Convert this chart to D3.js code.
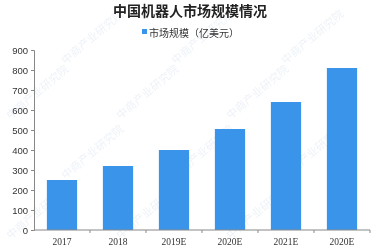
<!DOCTYPE html>
<html><head><meta charset="utf-8">
<script src="https://cdn.jsdelivr.net/npm/d3@7"></script>
<style>body{margin:0;background:#fff;}svg{display:block;font-family:"Noto Sans CJK SC","Liberation Sans",sans-serif;}</style>
</head><body>
<svg id="c" width="379" height="249"></svg>
<script>
const categories = ["2017","2018","2019E","2020E","2021E","2020E "];
const values = [250, 320, 400, 505, 640, 810];
const yTicks = [0,100,200,300,400,500,600,700,800,900];
const title = "中国机器人市场规模情况";
const seriesName = "市场规模（亿美元）";

const svg = d3.select("#c");
const m = {l:34, r:9, t:50, b:19};
const W = 379, H = 249;
const x = d3.scaleBand().domain(categories).range([m.l, W - m.r]).paddingInner(0.46).paddingOuter(0.23);
const y = d3.scaleLinear().domain([0, 900]).range([H - m.b, m.t]);

// faint watermark
const wm = svg.append("g").attr("fill","#d3deec").attr("opacity",0.4).style("font-size","11px");
[[40,95],[150,95],[260,95],[40,215],[150,215],[260,215],[95,40],[205,40],[315,40],[95,155],[205,155],[315,155]].forEach(p=>{
  wm.append("text").attr("transform",`translate(${p[0]},${p[1]}) rotate(-40)`).attr("text-anchor","middle").text("中商产业研究院");
});

svg.append("text").attr("x", 190).attr("y", 16).attr("text-anchor","middle")
  .style("font-size","14px").style("font-weight","bold").attr("fill","#222").text(title);

const lg = svg.append("g");
lg.append("rect").attr("x",142).attr("y",29).attr("width",5).attr("height",5).attr("fill","#3a95ea");
lg.append("text").attr("x",149).attr("y",36.5).style("font-size","10px").attr("fill","#333").text(seriesName);

svg.append("g").selectAll("rect").data(values).join("rect")
  .attr("x",(d,i)=>x(categories[i])).attr("width",x.bandwidth())
  .attr("y",d=>y(d)).attr("height",d=>y(0)-y(d)).attr("fill","#3a95ea");

const ya = svg.append("g").attr("transform",`translate(${m.l},0)`)
  .call(d3.axisLeft(y).tickValues(yTicks).tickSize(3).tickPadding(3));
ya.selectAll("text").style("font-size","9.5px").attr("fill","#333").style("font-family","Liberation Sans, sans-serif");
ya.selectAll("line,path").attr("stroke","#888");

const step = x.step();
const xa = svg.append("g").attr("transform",`translate(0,${H-m.b})`)
  .call(d3.axisBottom(x).tickSize(0).tickPadding(8).tickSizeOuter(0));
xa.selectAll("text").style("font-size","9.5px").attr("fill","#333").style("font-family","Liberation Serif, serif");
xa.select("path").attr("stroke","#888").attr("d",`M${m.l},0H${W-m.r}`);
xa.selectAll(".sep").data(categories).join("line").attr("class","sep")
  .attr("x1",(d,i)=>x(d)+x.bandwidth()+ (step - x.bandwidth())/2).attr("x2",(d,i)=>x(d)+x.bandwidth()+(step - x.bandwidth())/2)
  .attr("y1",0).attr("y2",3).attr("stroke","#888");
</script>
</body></html>
